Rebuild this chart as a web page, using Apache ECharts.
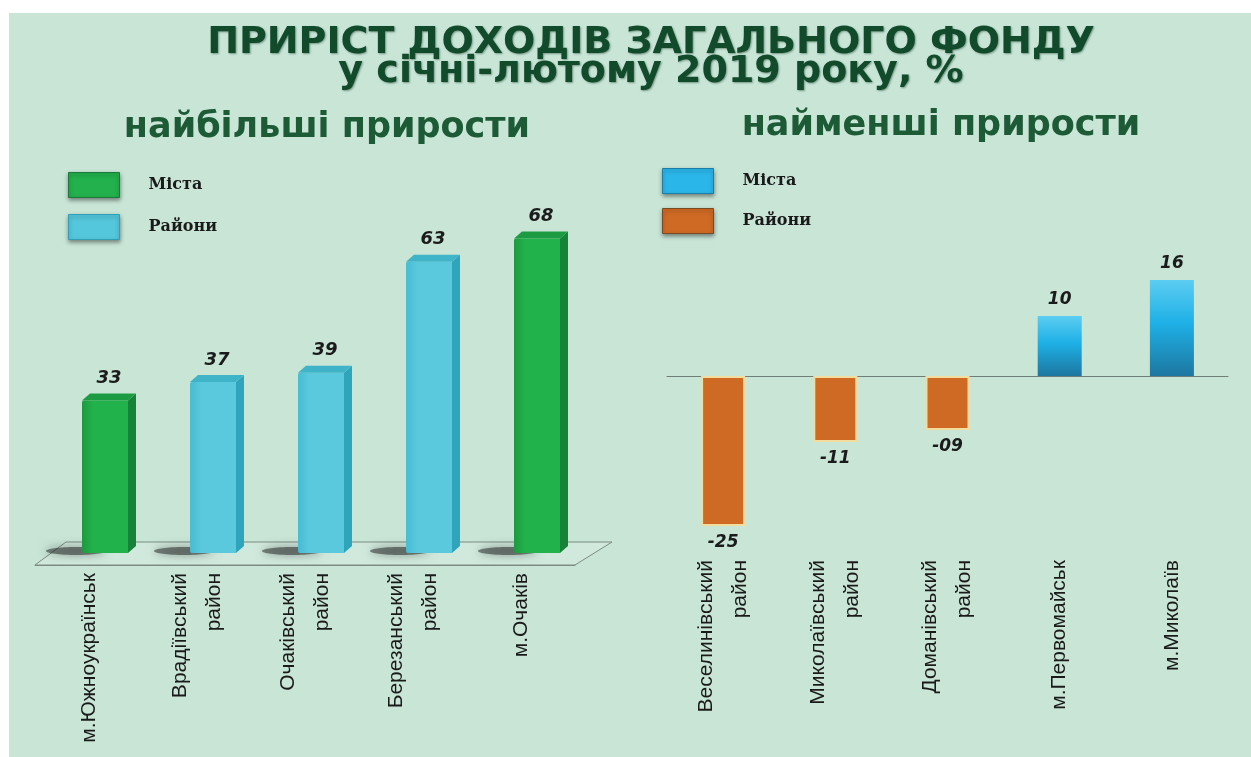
<!DOCTYPE html>
<html>
<head>
<meta charset="utf-8">
<script src="https://cdn.jsdelivr.net/npm/echarts@6/dist/echarts.min.js"></script>
<style>
html,body{margin:0;padding:0;background:#ffffff;}
#chart{position:absolute;left:9px;top:13px;width:1242px;height:744px;}
</style>
</head>
<body>
<div id="chart"></div>
<script>
// ---- data ----
const titleLine1 = 'ПРИРІСТ ДОХОДІВ ЗАГАЛЬНОГО ФОНДУ';
const titleLine2 = 'у січні-лютому 2019 року, %';
const leftSubtitle = 'найбільші прирости';
const rightSubtitle = 'найменші прирости';
const legendNames = ['Міста', 'Райони'];

const leftCategories = ['м.Южноукраїнськ', 'Врадіївський\nрайон', 'Очаківський\nрайон', 'Березанський\nрайон', 'м.Очаків'];
const leftCities = [33, '-', '-', '-', 68];
const leftDistricts = ['-', 37, 39, 63, '-'];

const rightCategories = ['Веселинівський\nрайон', 'Миколаївський\nрайон', 'Доманівський\nрайон', 'м.Первомайськ', 'м.Миколаїв'];
const rightCities = ['-', '-', '-', 10, 16];
const rightDistricts = [-25, -11, -9, '-', '-'];
const rightValueLabels = ['-25', '-11', '-09', '10', '16'];

// ---- chart ----
const OX = 9, OY = 13; // container offset
const chart = echarts.init(document.getElementById('chart'), null, {renderer: 'canvas'});

function bar3D(front, frontDark, side, top) {
  return function (params, api) {
    const v = api.value(1);
    if (isNaN(v)) return;
    const base = api.coord([api.value(0), 0]);
    const tp = api.coord([api.value(0), v]);
    const w = 46, dx = 8, dy = 7;
    const x0 = base[0] - w / 2, x1 = base[0] + w / 2, yb = base[1], yt = tp[1];
    return {
      type: 'group',
      children: [
        {type: 'ellipse', shape: {cx: x0 - 6, cy: yb - 2, rx: 30, ry: 4},
          style: {fill: 'rgba(30,30,30,0.5)', shadowBlur: 10, shadowColor: 'rgba(0,0,0,0.7)'}},
        {type: 'polygon', shape: {points: [[x1, yt], [x1 + dx, yt - dy], [x1 + dx, yb - dy], [x1, yb]]},
          style: {fill: side}},
        {type: 'rect', shape: {x: x0, y: yt, width: w, height: yb - yt, r: [2, 0, 0, 2]},
          style: {fill: new echarts.graphic.LinearGradient(0, 0, 1, 0, [
            {offset: 0, color: frontDark}, {offset: 0.25, color: front}, {offset: 1, color: front}])}},
        {type: 'polygon', shape: {points: [[x0, yt], [x0 + dx, yt - dy], [x1 + dx, yt - dy], [x1, yt]]},
          style: {fill: top}},
        {type: 'text', style: {text: String(v), x: (x0 + x1 + dx) / 2, y: yt - dy - 6,
          align: 'center', verticalAlign: 'bottom',
          font: 'italic bold 18px "DejaVu Sans", sans-serif', fill: '#1b1b1b'}}
      ]
    };
  };
}

function floorItem(params, api) {
  const cs = params.coordSys;
  const yF = cs.y + cs.height;
  const xL = cs.x, xR = cs.x + cs.width;
  return {
    type: 'polygon',
    shape: {points: [[xL, yF], [xR, yF], [xR + 37, yF - 23], [xL + 31, yF - 23]]},
    style: {fill: 'rgba(215,235,225,0.6)', stroke: '#7d8c84', lineWidth: 1}
  };
}

const axisLabelFont = {fontFamily: '"Liberation Sans", Arial, sans-serif', fontSize: 21, color: '#1a1a1a', lineHeight: 34};
const legendText = {fontFamily: '"DejaVu Serif", serif', fontWeight: 'bold', fontSize: 16, color: '#1a1a1a', padding: [0, 0, 0, 24]};
const subtitleStyle = {fontFamily: '"DejaVu Sans", sans-serif', fontWeight: 'bold', fontSize: 35, color: '#1d5a36'};

const option = {
  backgroundColor: '#c8e5d6',
  animation: false,
  title: [
    {text: titleLine1 + '\n' + titleLine2, left: 646 - OX, top: 11, textAlign: 'center',
      textStyle: {fontFamily: '"DejaVu Sans", sans-serif', fontWeight: 'bold', fontSize: 38, lineHeight: 29,
        color: '#114b2b', textShadowColor: 'rgba(0,30,10,0.4)', textShadowBlur: 2, textShadowOffsetX: 1, textShadowOffsetY: 1}},
    {text: leftSubtitle, left: 322 - OX, top: 92, textAlign: 'center', textStyle: subtitleStyle},
    {text: rightSubtitle, left: 936 - OX, top: 90, textAlign: 'center', textStyle: subtitleStyle}
  ],
  legend: [
    {left: 68 - OX, top: 172 - OY, padding: 0, orient: 'vertical', itemWidth: 51, itemHeight: 25, itemGap: 16,
      icon: 'rect', textStyle: legendText, selectedMode: false,
      data: [
        {name: legendNames[0], itemStyle: {color: '#22b14c', borderColor: '#1b7a3a', borderWidth: 1, shadowBlur: 4, shadowColor: 'rgba(0,0,0,0.4)', shadowOffsetY: 2}},
        {name: legendNames[1], itemStyle: {color: '#55c7dc', borderColor: '#2fa0b6', borderWidth: 1, shadowBlur: 4, shadowColor: 'rgba(0,0,0,0.4)', shadowOffsetY: 2}}
      ]},
    {left: 662 - OX, top: 168 - OY, padding: 0, orient: 'vertical', itemWidth: 51, itemHeight: 25, itemGap: 14,
      icon: 'rect', textStyle: legendText, selectedMode: false,
      data: [
        {name: legendNames[0], itemStyle: {color: '#2bb6ea', borderColor: '#1a7fa8', borderWidth: 1, shadowBlur: 4, shadowColor: 'rgba(0,0,0,0.4)', shadowOffsetY: 2}},
        {name: legendNames[1], itemStyle: {color: '#cf6a24', borderColor: '#7a4a20', borderWidth: 1, shadowBlur: 4, shadowColor: 'rgba(0,0,0,0.4)', shadowOffsetY: 2}}
      ]}
  ],
  grid: [
    {left: 51 - OX, width: 540, top: 183 - OY, height: 370},   // bars (left)
    {left: 35 - OX, width: 540, top: 300 - OY, height: 265},   // floor / labels (left)
    {left: 667 - OX, width: 561, top: 256 - OY, height: 300}   // right chart
  ],
  xAxis: [
    {type: 'category', gridIndex: 0, data: leftCategories, show: false},
    {type: 'category', gridIndex: 1, data: leftCategories,
      axisLine: {lineStyle: {color: '#7d8c84', width: 1}},
      axisTick: {length: 7, lineStyle: {color: '#7d8c84'}},
      axisLabel: Object.assign({rotate: 90, margin: 8, interval: 0}, axisLabelFont)},
    {type: 'category', gridIndex: 2, data: rightCategories,
      axisLine: {onZero: true, lineStyle: {color: '#6f7f77', width: 1}},
      axisTick: {length: 7, lineStyle: {color: '#6f7f77'}},
      axisLabel: {show: false}},
    {type: 'category', gridIndex: 2, data: rightCategories, position: 'bottom',
      axisLine: {show: false, onZero: false}, axisTick: {show: false},
      axisLabel: Object.assign({rotate: 90, margin: 4, interval: 0}, axisLabelFont)}
  ],
  yAxis: [
    {type: 'value', gridIndex: 0, min: 0, max: 80, show: false},
    {type: 'value', gridIndex: 1, min: 0, max: 80, show: false},
    {type: 'value', gridIndex: 2, min: -30, max: 20, show: false}
  ],
  series: [
    {type: 'custom', name: 'floor', xAxisIndex: 1, yAxisIndex: 1, z: 1, silent: true,
      renderItem: floorItem, data: [[0, 0]]},
    {type: 'custom', name: legendNames[0], xAxisIndex: 0, yAxisIndex: 0, z: 3,
      itemStyle: {color: '#22b14c'},
      renderItem: bar3D('#22b24c', '#1c9a40', '#178338', '#1d9b42'),
      data: leftCities.map((v, i) => [i, v])},
    {type: 'custom', name: legendNames[1], xAxisIndex: 0, yAxisIndex: 0, z: 3,
      itemStyle: {color: '#55c7dc'},
      renderItem: bar3D('#5ac9de', '#47bcd2', '#2ea5ba', '#3fb3c7'),
      data: leftDistricts.map((v, i) => [i, v])},
    {type: 'bar', name: legendNames[0], xAxisIndex: 2, yAxisIndex: 2, barWidth: 44, barGap: '-100%',
      data: rightCities,
      itemStyle: {color: new echarts.graphic.LinearGradient(0, 0, 0, 1, [
        {offset: 0, color: '#5ccdf2'}, {offset: 0.45, color: '#1eb0e6'}, {offset: 1, color: '#1d77a0'}])},
      label: {show: true, position: 'top', distance: 8,
        formatter: p => rightValueLabels[p.dataIndex],
        fontFamily: '"DejaVu Sans", sans-serif', fontStyle: 'italic', fontWeight: 'bold', fontSize: 17, color: '#1b1b1b'}},
    {type: 'bar', name: legendNames[1], xAxisIndex: 2, yAxisIndex: 2, barWidth: 44, barGap: '-100%',
      data: rightDistricts,
      itemStyle: {color: '#cf6a24', borderColor: '#f2dc9e', borderWidth: 2},
      label: {show: true, position: 'bottom', distance: 8,
        formatter: p => rightValueLabels[p.dataIndex],
        fontFamily: '"DejaVu Sans", sans-serif', fontStyle: 'italic', fontWeight: 'bold', fontSize: 17, color: '#1b1b1b'}}
  ]
};
chart.setOption(option);
</script>
</body>
</html>
